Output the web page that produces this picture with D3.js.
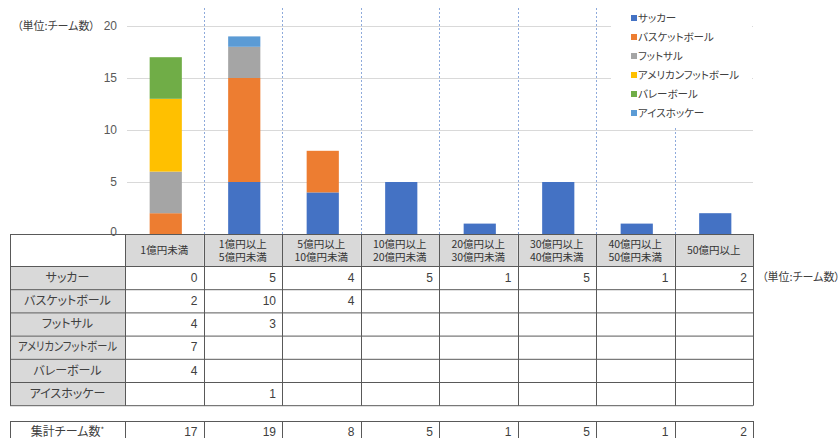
<!DOCTYPE html>
<html><head><meta charset="utf-8">
<script src="https://cdn.jsdelivr.net/npm/d3@7"></script>
<style>
body{margin:0;background:#fff;}
svg{display:block;font-family:"Noto Sans CJK JP","Noto Sans",sans-serif;}
.jp{font-feature-settings:"palt";}
</style></head><body>
<svg id="chart" width="839" height="438"></svg>
<script>
// Revenue bands (table header, two lines each)
const bands = [
  ["1億円未満"],
  ["1億円以上","5億円未満"],
  ["5億円以上","10億円未満"],
  ["10億円以上","20億円未満"],
  ["20億円以上","30億円未満"],
  ["30億円以上","40億円未満"],
  ["40億円以上","50億円未満"],
  ["50億円以上"]
];
const sports = ["サッカー","バスケットボール","フットサル","アメリカンフットボール","バレーボール","アイスホッケー"];
const colors = ["#4472C4","#ED7D31","#A5A5A5","#FFC000","#70AD47","#5B9BD5"];
// Team counts per band; null = empty cell
const soccer     = [0, 5, 4, 5, 1, 5, 1, 2];
const basketball = [2, 10, 4, null, null, null, null, null];
const futsal     = [4, 3, null, null, null, null, null, null];
const amfootball = [7, null, null, null, null, null, null, null];
const volleyball = [4, null, null, null, null, null, null, null];
const icehockey  = [null, 1, null, null, null, null, null, null];
const totals     = [17, 19, 8, 5, 1, 5, 1, 2];
const yTicks = [0, 5, 10, 15, 20];
const unitLabel = "（単位:チーム数）";

const series = [soccer, basketball, futsal, amfootball, volleyball, icehockey];
const svg = d3.select("#chart");

const pLeft = 125, pRight = 753, pTop = 26, pBase = 234;
const x = d3.scaleBand().domain(d3.range(bands.length)).range([pLeft, pRight]);
const y = d3.scaleLinear().domain([0, 20]).range([pBase, pTop]);
const bw = x.bandwidth();

// horizontal gridlines
svg.append("g").selectAll("line").data(yTicks.filter(d => d > 0)).join("line")
  .attr("x1", pLeft + 2).attr("x2", pRight)
  .attr("y1", d => y(d) + 0.5).attr("y2", d => y(d) + 0.5)
  .attr("stroke", "#d9d9d9").attr("stroke-width", 1);

// dashed band separators
svg.append("g").selectAll("line").data(d3.range(1, bands.length)).join("line")
  .attr("x1", d => Math.round(x(d)) + 0.5).attr("x2", d => Math.round(x(d)) + 0.5)
  .attr("y1", 8).attr("y2", pBase)
  .attr("stroke", "#8eaadb").attr("stroke-width", 1).attr("stroke-dasharray", "2,2");

// legend (white box over grid)
const lg = svg.append("g");
lg.append("rect").attr("x", 611).attr("y", 4).attr("width", 141).attr("height", 122).attr("fill", "#fff");
sports.forEach((s, i) => {
  const yy = 18 + i * 19;
  lg.append("rect").attr("x", 631).attr("y", yy - 3).attr("width", 6).attr("height", 6).attr("fill", colors[i]);
  lg.append("text").attr("class", "jp").attr("x", 638).attr("y", yy).attr("dy", "0.35em")
    .attr("font-size", 10.5).attr("fill", "#404040").text(s);
});

// stacked bars
const rows = bands.map((b, j) => {
  const o = { i: j };
  sports.forEach((s, k) => o[s] = series[k][j] || 0);
  return o;
});
const stacked = d3.stack().keys(sports)(rows);
const barW = bw * 0.41;
svg.append("g").selectAll("g").data(stacked).join("g")
  .attr("fill", (d, k) => colors[k])
  .selectAll("rect").data(d => d).join("rect")
  .attr("x", d => x(d.data.i) + (bw - barW) / 2 + 1.5)
  .attr("width", barW)
  .attr("y", d => y(d[1]))
  .attr("height", d => y(d[0]) - y(d[1]));

// y axis labels
const yAxis = d3.axisLeft(y).tickValues(yTicks).tickSize(0).tickPadding(0);
const ag = svg.append("g").attr("transform", `translate(117,0)`).call(yAxis);
ag.select(".domain").remove();
ag.selectAll("text").attr("font-family", "Liberation Sans, Arial, sans-serif")
  .attr("font-size", 12).attr("fill", "#595959");
ag.selectAll(".tick").filter(d => d === 0).select("text").attr("dy", "0.1em");

svg.append("text").attr("class", "jp").attr("x", 17).attr("y", 26).attr("dy", "0.35em")
  .attr("font-size", 11).attr("fill", "#404040").text(unitLabel);

// data table
const tLeft = 10, hTop = 234, hBot = 266, rowH = 23.2;
const tg = svg.append("g");
const rowY = d => hBot + d * rowH;
// header cells
bands.forEach((b, j) => {
  tg.append("rect").attr("x", x(j)).attr("y", hTop).attr("width", bw).attr("height", hBot - hTop).attr("fill", "#d9d9d9");
  if (b.length === 1) {
    tg.append("text").attr("class", "jp").attr("text-anchor", "middle")
      .attr("font-size", 10.5).attr("fill", "#333")
      .attr("x", x(j) + bw / 2).attr("y", (hTop + hBot) / 2).attr("dy", "0.35em").text(b[0]);
  } else {
    b.forEach((line, li) => tg.append("text").attr("class", "jp").attr("text-anchor", "middle")
      .attr("font-size", 10.5).attr("fill", "#333")
      .attr("x", x(j) + bw / 2).attr("y", hTop + 10.5 + li * 12.5).attr("dy", "0.35em").text(line));
  }
});
// row labels and values
sports.forEach((s, k) => {
  const y0 = rowY(k);
  tg.append("rect").attr("x", tLeft).attr("y", y0).attr("width", pLeft - tLeft).attr("height", rowH).attr("fill", "#d9d9d9");
  const lbl = tg.append("text").attr("class", "jp").attr("x", (tLeft + pLeft) / 2).attr("y", y0 + rowH / 2).attr("dy", "0.35em")
    .attr("text-anchor", "middle").attr("font-size", 12).attr("fill", "#404040").text(s);
  const maxW = pLeft - tLeft - 16;
  if (lbl.node().getComputedTextLength() > maxW) lbl.attr("textLength", maxW).attr("lengthAdjust", "spacingAndGlyphs");
  series[k].forEach((v, j) => {
    if (v === null) return;
    tg.append("text").attr("x", x(j) + bw - 6).attr("y", y0 + rowH / 2).attr("dy", "0.35em")
      .attr("text-anchor", "end").attr("font-family", "Liberation Sans, Arial, sans-serif")
      .attr("font-size", 12).attr("fill", "#404040").text(v);
  });
});
const tBot = rowY(sports.length);
// grid lines of table
const lineC = "#595959";
d3.range(sports.length + 2).forEach(r => {
  const yy = r === 0 ? hTop : rowY(r - 1);
  tg.append("line").attr("x1", tLeft).attr("x2", pRight).attr("y1", yy + 0.5).attr("y2", yy + 0.5).attr("stroke", lineC);
});
[tLeft, ...d3.range(bands.length).map(j => x(j)), pRight].forEach(xx => {
  tg.append("line").attr("x1", Math.round(xx) + 0.5).attr("x2", Math.round(xx) + 0.5)
    .attr("y1", hTop).attr("y2", tBot + 0.5).attr("stroke", lineC);
});
svg.append("text").attr("class", "jp").attr("x", 762).attr("y", rowY(0) + rowH / 2).attr("dy", "0.35em")
  .attr("font-size", 11).attr("fill", "#404040").text(unitLabel);

// totals table
const sTop = 421, sBot = 446;
tg.append("line").attr("x1", tLeft).attr("x2", pRight).attr("y1", sTop + 0.5).attr("y2", sTop + 0.5).attr("stroke", lineC);
tg.append("line").attr("x1", tLeft).attr("x2", pRight).attr("y1", sBot + 0.5).attr("y2", sBot + 0.5).attr("stroke", lineC);
[tLeft, ...d3.range(bands.length).map(j => x(j)), pRight].forEach(xx => {
  tg.append("line").attr("x1", Math.round(xx) + 0.5).attr("x2", Math.round(xx) + 0.5)
    .attr("y1", sTop).attr("y2", sBot).attr("stroke", lineC);
});
const tl = tg.append("text").attr("class", "jp").attr("x", (tLeft + pLeft) / 2).attr("y", sTop + 10.5).attr("dy", "0.35em")
  .attr("text-anchor", "middle").attr("font-size", 12).attr("fill", "#404040");
tl.append("tspan").text("集計チーム数");
tl.append("tspan").attr("dy", "-0.4em").attr("font-size", 8).text("*");
totals.forEach((v, j) => {
  tg.append("text").attr("x", x(j) + bw - 6).attr("y", sTop + 10.5).attr("dy", "0.35em")
    .attr("text-anchor", "end").attr("font-family", "Liberation Sans, Arial, sans-serif")
    .attr("font-size", 12).attr("fill", "#404040").text(v);
});
</script>
</body></html>
